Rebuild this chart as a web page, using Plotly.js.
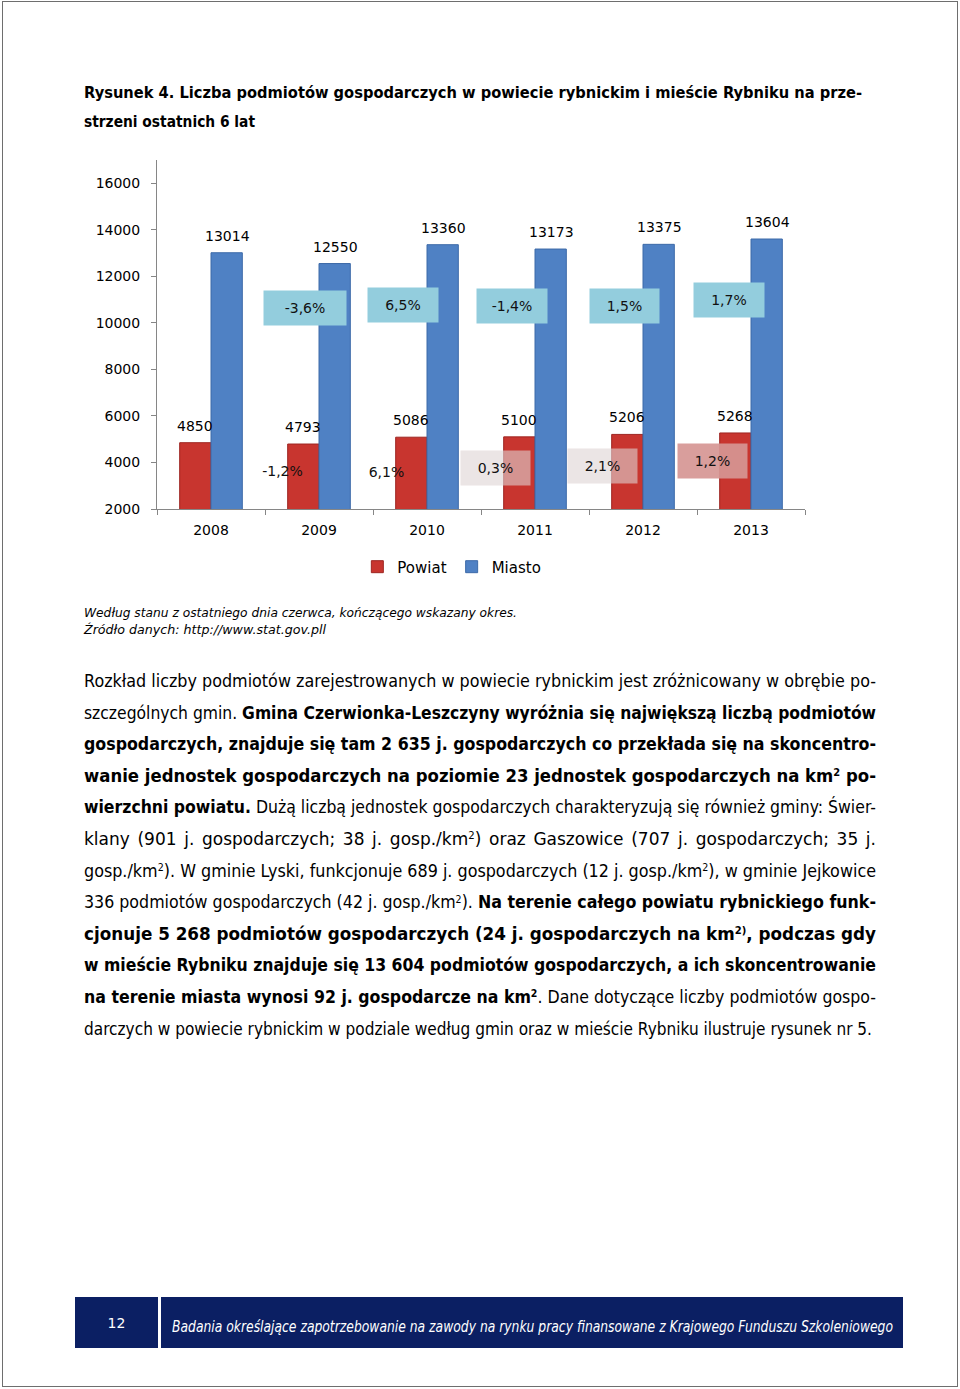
<!DOCTYPE html>
<html><head><meta charset="utf-8">
<script src="https://cdn.plot.ly/plotly-3.0.1.min.js"></script>
<style>
html,body{margin:0;padding:0;background:#fff;}
body{width:960px;height:1389px;position:relative;overflow:hidden;font-family:"DejaVu Sans",sans-serif;color:#000;}
.frame{position:absolute;left:2px;top:1px;width:956px;height:1386px;border:1px solid #6e6e6e;box-sizing:border-box;}
.ln{position:absolute;white-space:nowrap;height:24px;line-height:24px;}
.ln>span{display:inline-block;white-space:nowrap;transform-origin:0 50%;}
.body{font-size:17px;left:84px;}
.ttl{font-size:16.5px;font-weight:bold;left:84px;}
.note{font-size:13px;font-style:italic;left:84px;height:18px;line-height:18px;}
sup{font-size:0.6em;vertical-align:0;position:relative;top:-0.55em;line-height:0;}
.box{position:absolute;background:#0B1F63;top:1297px;height:51px;}
#chart{position:absolute;left:0;top:140px;width:960px;height:470px;}
</style></head>
<body>
<div class="frame"></div>
<div class="ln ttl" style="top:81px" data-w="778"><span>Rysunek 4. Liczba podmiotów gospodarczych w powiecie rybnickim i mieście Rybniku na prze-</span></div>
<div class="ln ttl" style="top:110px" data-w="171" data-mode="fit"><span>strzeni ostatnich 6 lat</span></div>
<div id="chart"></div>
<div class="ln note" style="top:604px" data-w="433" data-mode="fit"><span>Według stanu z ostatniego dnia czerwca, kończącego wskazany okres.</span></div>
<div class="ln note" style="top:621px" data-w="242" data-mode="fit"><span>Źródło danych: http://www.stat.gov.pll</span></div>

<div class="ln body" style="top:669px" data-w="792"><span>Rozkład liczby podmiotów zarejestrowanych w powiecie rybnickim jest zróżnicowany w obrębie po-</span></div>
<div class="ln body" style="top:700.6px" data-w="792"><span>szczególnych gmin. <b>Gmina Czerwionka-Leszczyny wyróżnia się największą liczbą podmiotów</b></span></div>
<div class="ln body" style="top:732.2px" data-w="792"><span><b>gospodarczych, znajduje się tam 2 635 j. gospodarczych co przekłada się na skoncentro-</b></span></div>
<div class="ln body" style="top:763.8px" data-w="792"><span><b>wanie jednostek gospodarczych na poziomie 23 jednostek gospodarczych na km<sup>2</sup> po-</b></span></div>
<div class="ln body" style="top:795.4px" data-w="792"><span><b>wierzchni powiatu.</b> Dużą liczbą jednostek gospodarczych charakteryzują się również gminy: Świer-</span></div>
<div class="ln body" style="top:827px" data-w="792"><span>klany (901 j. gospodarczych; 38 j. gosp./km<sup>2</sup>) oraz Gaszowice (707 j. gospodarczych; 35 j.</span></div>
<div class="ln body" style="top:858.6px" data-w="792"><span>gosp./km<sup>2</sup>). W gminie Lyski, funkcjonuje 689 j. gospodarczych (12 j. gosp./km<sup>2</sup>), w gminie Jejkowice</span></div>
<div class="ln body" style="top:890.2px" data-w="792"><span>336 podmiotów gospodarczych (42 j. gosp./km<sup>2</sup>). <b>Na terenie całego powiatu rybnickiego funk-</b></span></div>
<div class="ln body" style="top:921.8px" data-w="792"><span><b>cjonuje 5 268 podmiotów gospodarczych (24 j. gospodarczych na km<sup>2)</sup>, podczas gdy</b></span></div>
<div class="ln body" style="top:953.4px" data-w="792"><span><b>w mieście Rybniku znajduje się 13 604 podmiotów gospodarczych, a ich skoncentrowanie</b></span></div>
<div class="ln body" style="top:985px" data-w="792"><span><b>na terenie miasta wynosi 92 j. gospodarcze na km<sup>2</sup></b>. Dane dotyczące liczby podmiotów gospo-</span></div>
<div class="ln body" style="top:1016.6px" data-w="788"><span>darczych w powiecie rybnickim w podziale według gmin oraz w mieście Rybniku ilustruje rysunek nr 5.</span></div>

<div class="box" style="left:75px;width:83px;"></div>
<div class="box" style="left:161px;width:742px;"></div>
<div class="ln" style="left:75px;width:83px;top:1311px;text-align:center;color:#fff;font-size:14px;">12</div>
<div class="ln" style="left:172px;top:1315px;color:#fff;font-size:15px;font-style:italic;" data-w="721" data-mode="fit"><span>Badania określające zapotrzebowanie na zawody na rynku pracy finansowane z Krajowego Funduszu Szkoleniowego</span></div>

<script>
// ---- data ----
const years = ['2008','2009','2010','2011','2012','2013'];
const powiat = [4850, 4793, 5086, 5100, 5206, 5268];
const miasto = [13014, 12550, 13360, 13173, 13375, 13604];
const powiatChange = ['', '-1,2%', '6,1%', '0,3%', '2,1%', '1,2%'];
const miastoChange = ['', '-3,6%', '6,5%', '-1,4%', '1,5%', '1,7%'];
const yTickVals = [2000, 4000, 6000, 8000, 10000, 12000, 14000, 16000];
const seriesNames = ['Powiat', 'Miasto'];

// ---- label placement (layout only) ----
const miastoLblY = [null, 10630, 10760, 10720, 10720, 10975];
const miastoLblDx = [0, -14, -24, -23, -19, -22];
const miastoLblW = [0, 80, 68, 68, 67, 68];
const powiatLblY = [null, 3630, 3590, 3760, 3845, 4060];
const powiatLblDx = [0, -37, -41, -40, -41, -39];
const powiatLblBg = ['', 'rgba(0,0,0,0)', 'rgba(0,0,0,0)', 'rgba(222,212,212,0.6)', 'rgba(222,212,212,0.6)', 'rgba(214,150,148,0.92)'];

const RED = '#C8352F', BLUE = '#4F81C4';
const fontFam = '"DejaVu Sans", Verdana, sans-serif';

const traces = [
  {type:'bar', name:seriesNames[0], x:years, y:powiat, marker:{color:RED, line:{color:'#9E2622', width:1}}, hoverinfo:'x+y'},
  {type:'bar', name:seriesNames[1], x:years, y:miasto, marker:{color:BLUE, line:{color:'#3D6AA8', width:1}}, hoverinfo:'x+y'}
];

// annotations on a category axis are placed by category index
const ann = [];
years.forEach((yr, i) => {
  ann.push({x:i, y:powiat[i], xref:'x', yref:'y', text:String(powiat[i]), showarrow:false,
    xshift:-16, yshift:17, font:{size:14, color:'#000', family:fontFam}});
  ann.push({x:i, y:miasto[i], xref:'x', yref:'y', text:String(miasto[i]), showarrow:false,
    xshift:16, yshift:17, font:{size:14, color:'#000', family:fontFam}});
  if (miastoChange[i]) {
    ann.push({x:i, y:miastoLblY[i], xref:'x', yref:'y', text:miastoChange[i], showarrow:false,
      xshift:miastoLblDx[i], width:miastoLblW[i], height:32, bgcolor:'#93CDDD',
      font:{size:14, color:'#111', family:fontFam}});
  }
  if (powiatChange[i]) {
    ann.push({x:i, y:powiatLblY[i], xref:'x', yref:'y', text:powiatChange[i], showarrow:false,
      xshift:powiatLblDx[i], width:67, height:32, bgcolor:powiatLblBg[i],
      font:{size:14, color:'#111', family:fontFam}});
  }
});

const layout = {
  width:960, height:470,
  margin:{l:157, r:155, t:20, b:101},
  paper_bgcolor:'rgba(0,0,0,0)', plot_bgcolor:'rgba(0,0,0,0)',
  font:{family:fontFam, size:14, color:'#000'},
  barmode:'group', bargap:0.42, bargroupgap:0,
  showlegend:true,
  legend:{orientation:'h', x:0.455, xanchor:'center', y:-0.166, yanchor:'middle',
    font:{size:15, color:'#000', family:fontFam}, bgcolor:'rgba(0,0,0,0)', itemwidth:30, traceorder:'normal'},
  xaxis:{type:'category', range:[-0.5, years.length - 0.5], autorange:false, showline:true,
    linecolor:'#868686', linewidth:1, ticks:'outside', tickson:'boundaries', ticklen:5,
    tickcolor:'#868686', showgrid:false, zeroline:false, ticklabelstandoff:8, tickangle:0,
    tickfont:{size:14}},
  yaxis:{range:[2000,17000], autorange:false, tickvals:yTickVals, ticktext:yTickVals.map(String), showline:true,
    linecolor:'#868686', linewidth:1, ticks:'outside', ticklen:5, tickcolor:'#868686',
    showgrid:false, zeroline:false, ticklabelstandoff:8, tickfont:{size:14}},
  annotations:ann
};

Plotly.newPlot('chart', traces, layout, {displayModeBar:false, staticPlot:true});

// ---- fit text lines to measured widths ----
function fitAll(){
  document.querySelectorAll('[data-w]').forEach(el => {
    const span = el.firstElementChild;
    span.style.transform = ''; span.style.wordSpacing = '';
    const W = +el.dataset.w, mode = el.dataset.mode || 'justify';
    const w = span.getBoundingClientRect().width;
    if (!w) return;
    if (mode === 'justify' && w < W) {
      const n = (span.textContent.match(/ /g) || []).length;
      if (n) span.style.wordSpacing = ((W - w) / n) + 'px';
    } else {
      span.style.transform = 'scaleX(' + (W / w) + ')';
    }
  });
}
fitAll();
if (document.fonts && document.fonts.ready) document.fonts.ready.then(fitAll);
</script>
</body></html>
